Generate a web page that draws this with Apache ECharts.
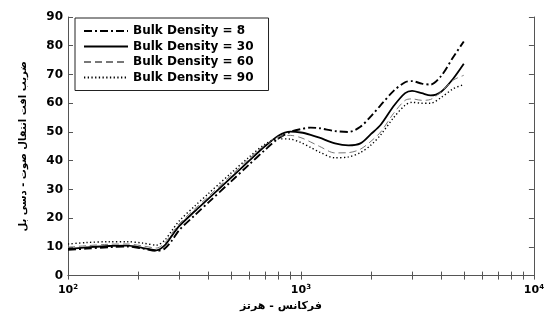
<!DOCTYPE html>
<html>
<head>
<meta charset="utf-8">
<script src="https://cdn.jsdelivr.net/npm/echarts@6/dist/echarts.min.js"></script>
<style>
html,body{margin:0;padding:0;background:#fff;}
#c{width:547px;height:317px;}
</style>
</head>
<body>
<div id="c"></div>
<script>
const freqs = [100,120,150,180,210,240,260,280,300,350,400,500,600,700,800,900,1000,1100,1200,1400,1600,1800,2000,2200,2500,2800,3000,3300,3600,4000,4500,5000];
const bd8  = [9.0,9.4,9.9,10.1,9.4,8.6,9.4,12.3,15.8,21.0,25.4,32.7,38.7,43.7,47.7,50.0,51.0,51.5,51.3,50.3,50.0,51.8,55.5,59.3,64.3,67.3,67.7,66.8,66.5,69.5,76.0,81.5];
const bd30 = [9.3,9.8,10.3,10.4,9.6,8.8,10.5,14.0,17.2,22.4,26.7,34.0,40.0,45.0,48.7,50.1,49.8,49.0,48.0,46.0,45.3,46.0,49.3,52.5,59.0,63.5,64.3,63.5,62.7,64.0,68.5,73.7];
const bd60 = [9.9,10.4,10.9,11.0,10.3,9.6,11.3,14.8,18.0,23.2,27.5,34.8,40.7,45.4,48.3,48.8,48.0,46.5,45.0,42.7,42.8,44.0,46.8,50.0,56.5,61.0,61.5,61.0,61.3,64.0,68.0,69.7];
const bd90 = [11.0,11.5,11.8,11.8,11.3,10.6,12.3,15.8,19.0,24.2,28.5,35.6,41.3,45.7,47.6,47.5,46.3,44.6,43.0,41.0,41.3,42.8,45.5,49.0,55.0,59.3,60.3,60.0,60.0,62.0,65.0,66.5];
const seriesNames = ['Bulk Density = 8','Bulk Density = 30','Bulk Density = 60','Bulk Density = 90'];
const xTickLabels = [100,1000,10000];
const xMinorTicks = [100,200,300,400,500,600,700,800,900,1000,2000,3000,4000,5000,6000,7000,8000,9000,10000];
const xTitle = 'فرکانس - هرتز';
const yTitle = 'ضریب افت انتقال صوت - دسی بل';

const pair = arr => freqs.map((f,i)=>[f,arr[i]]);
const styles = [
  {color:'#000', width:1.9, type:[8,3,2,3]},
  {color:'#000', width:1.8, type:'solid'},
  {color:'#777', width:1, type:[7,4]},
  {color:'#000', width:1.4, type:[1.3,2.4]}
];
const data = [bd8,bd30,bd60,bd90];
const chart = echarts.init(document.getElementById('c'));
const axisLineStyle = {color:'#555', width:1};
const font = 'DejaVu Sans';
chart.setOption({
  animation:false,
  backgroundColor:'#fff',
  grid:{left:68, right:9, top:17, bottom:34},
  legend:{
    left:75, top:18, orient:'vertical',
    backgroundColor:'#fff', borderColor:'#222', borderWidth:1,
    padding:[6,15,6,8], itemWidth:44, itemHeight:10, itemGap:1.5,
    itemStyle:{opacity:0},
    textStyle:{fontFamily:font, fontWeight:'bold', fontSize:12, color:'#000', lineHeight:14},
    data:seriesNames
  },
  xAxis:[{
    type:'log', logBase:10, min:100, max:10000,
    name:xTitle, nameLocation:'middle', nameGap:21,
    nameTextStyle:{fontFamily:font, fontWeight:'bold', fontSize:11, color:'#000', padding:[0,40,0,0]},
    axisLine:{lineStyle:axisLineStyle},
    axisTick:{inside:true, length:4, customValues:xMinorTicks, lineStyle:axisLineStyle},
    axisLabel:{customValues:xTickLabels, margin:8,
      formatter:function(v){return '{b|10}{s|'+Math.round(Math.log10(v))+'}';},
      rich:{b:{fontFamily:font,fontWeight:'bold',fontSize:11,color:'#000',lineHeight:14},
            s:{fontFamily:font,fontWeight:'bold',fontSize:7,color:'#000',lineHeight:8,verticalAlign:'top'}}},
    splitLine:{show:false}
  },{
    type:'log', logBase:10, min:100, max:10000, position:'top',
    axisLine:{lineStyle:axisLineStyle},
    axisTick:{inside:true, length:4, customValues:xMinorTicks, lineStyle:axisLineStyle},
    axisLabel:{show:false}, splitLine:{show:false}
  }],
  yAxis:[{
    type:'value', min:0, max:90, interval:10,
    name:yTitle, nameLocation:'middle', nameGap:40, nameRotate:90,
    nameTextStyle:{fontFamily:font, fontWeight:'bold', fontSize:10, color:'#000'},
    axisLine:{show:true, lineStyle:axisLineStyle},
    axisTick:{show:true, inside:true, length:5, lineStyle:axisLineStyle},
    axisLabel:{fontFamily:font, fontWeight:'bold', fontSize:12, color:'#000', margin:5},
    splitLine:{show:false}
  },{
    type:'value', min:0, max:90, interval:10, position:'right',
    axisLine:{show:true, lineStyle:axisLineStyle},
    axisTick:{show:true, inside:true, length:5, lineStyle:axisLineStyle},
    axisLabel:{show:false}, splitLine:{show:false}
  }],
  series: seriesNames.map((n,i)=>({
    name:n, type:'line', data:pair(data[i]), smooth:0.3, symbol:'none',
    lineStyle:styles[i], itemStyle:{color:styles[i].color}
  }))
});
</script>
</body>
</html>
